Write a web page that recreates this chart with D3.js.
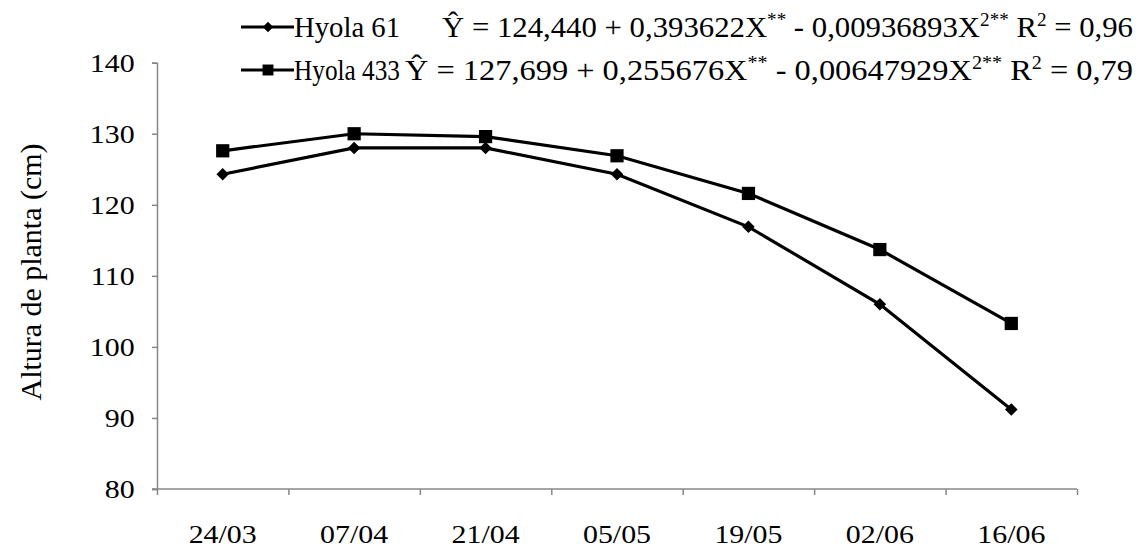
<!DOCTYPE html>
<html>
<head>
<meta charset="utf-8">
<script src="https://cdn.jsdelivr.net/npm/d3@7"></script>
<style>
  body { margin: 0; background: #fff; }
  svg text { font-family: "Liberation Serif", "Times New Roman", serif; }
</style>
</head>
<body>
<svg width="1144" height="548"></svg>
<script>
// datas de semeadura
var datas = ["24/03", "07/04", "21/04", "05/05", "19/05", "02/06", "16/06"];
// altura de planta (cm)
var hyola61 = [124.3, 128.0, 128.0, 124.3, 116.9, 106.0, 91.2];
var hyola433 = [127.6, 130.0, 129.6, 126.9, 121.6, 113.7, 103.3];
var yTicks = [80, 90, 100, 110, 120, 130, 140];
var nomes = ["Hyola 61", "Hyola 433"];

var svg = d3.select("svg");
var mLeft = 157, mRight = 1077, mTop = 62.7, mBottom = 489;
var axisColor = "#878787";
var serif = "Liberation Serif";

var x = d3.scaleBand().domain(datas).range([mLeft, mRight]).padding(0);
var xEdges = d3.scaleLinear().domain([0, datas.length]).range([mLeft, mRight]);
var y = d3.scaleLinear().domain([80, 140]).range([mBottom, mTop]);

// eixo Y
var gy = svg.append("g")
    .attr("transform", "translate(" + mLeft + ",0)")
    .call(d3.axisLeft(y).tickValues(yTicks).tickSize(5).tickPadding(14.5));
gy.select(".domain").attr("stroke", axisColor).attr("stroke-width", 1.5);
gy.selectAll(".tick line").attr("stroke", axisColor).attr("stroke-width", 1.5);
gy.selectAll(".tick text").attr("font-size", 26).attr("fill", "#000")
    .attr("font-family", serif)
    .attr("transform", "scale(1.15,1)");

// eixo X (marcas nas bordas)
var gx = svg.append("g")
    .attr("transform", "translate(0," + mBottom + ")")
    .call(d3.axisBottom(xEdges).tickValues(d3.range(datas.length + 1)).tickSize(6).tickFormat(""));
gx.select(".domain").attr("stroke", axisColor).attr("stroke-width", 1.5)
    .attr("d", "M" + (mLeft - 5) + ",0H" + mRight);
gx.selectAll(".tick line").attr("stroke", axisColor).attr("stroke-width", 1.5);

var gxl = svg.append("g")
    .attr("transform", "translate(0," + mBottom + ")")
    .call(d3.axisBottom(x).tickSize(0).tickPadding(36));
gxl.select(".domain").remove();
gxl.selectAll(".tick text").attr("font-size", 26).attr("fill", "#000")
    .attr("font-family", serif)
    .attr("transform", "scale(1.15,1)");

// titulo eixo Y
svg.append("text")
    .attr("transform", "translate(41,272) rotate(-90)")
    .attr("text-anchor", "middle")
    .attr("font-family", serif)
    .attr("font-size", 29)
    .attr("textLength", 257)
    .attr("lengthAdjust", "spacingAndGlyphs")
    .text("Altura de planta (cm)");

// linhas
var line = d3.line()
    .x(function(d, i) { return x(datas[i]) + x.bandwidth() / 2; })
    .y(function(d) { return y(d); });

var series = [hyola61, hyola433];
var simbolos = [d3.symbol().type(d3.symbolDiamond2).size(100), d3.symbol().type(d3.symbolSquare).size(175)];

series.forEach(function(s, k) {
    svg.append("path")
        .datum(s)
        .attr("fill", "none")
        .attr("stroke", "#000")
        .attr("stroke-width", 3.2)
        .attr("d", line);
    svg.selectAll(".m" + k)
        .data(s)
        .enter().append("path")
        .attr("class", "m" + k)
        .attr("transform", function(d, i) { return "translate(" + (x(datas[i]) + x.bandwidth() / 2) + "," + y(d) + ")"; })
        .attr("d", simbolos[k])
        .attr("fill", "#000");
});

// legenda
var eq = [
    ["Ŷ = 124,440 + 0,393622X", "**", " - 0,00936893X", "2**", " R", "2", " = 0,96"],
    ["Ŷ = 127,699 + 0,255676X", "**", " - 0,00647929X", "2**", " R", "2", " = 0,79"]
];
var eqX = [442, 405];
var eqW = [691, 728];
var nomeW = [106, 106];
var legSimb = [d3.symbol().type(d3.symbolDiamond2).size(70), d3.symbol().type(d3.symbolSquare).size(120)];

nomes.forEach(function(nome, k) {
    var ly = 27 + k * 43;
    var lg = svg.append("g");
    lg.append("line")
        .attr("x1", 241).attr("x2", 294)
        .attr("y1", ly).attr("y2", ly)
        .attr("stroke", "#000").attr("stroke-width", 3.2);
    lg.append("path")
        .attr("transform", "translate(268," + ly + ")")
        .attr("d", legSimb[k]);
    lg.append("text")
        .attr("x", 294).attr("y", ly + 10)
        .attr("font-family", serif)
        .attr("font-size", 29)
        .attr("textLength", nomeW[k])
        .attr("lengthAdjust", "spacingAndGlyphs")
        .text(nome);
    var t = lg.append("text")
        .attr("x", eqX[k]).attr("y", ly + 10)
        .attr("font-family", serif)
        .attr("font-size", 29)
        .attr("textLength", eqW[k])
        .attr("lengthAdjust", "spacingAndGlyphs");
    eq[k].forEach(function(part, j) {
        var sup = j % 2 == 1;
        t.append("tspan")
            .attr("font-size", sup ? 18 : 29)
            .attr("dy", sup ? -11 : (j > 0 ? 11 : 0))
            .text(part);
    });
});
</script>
</body>
</html>
